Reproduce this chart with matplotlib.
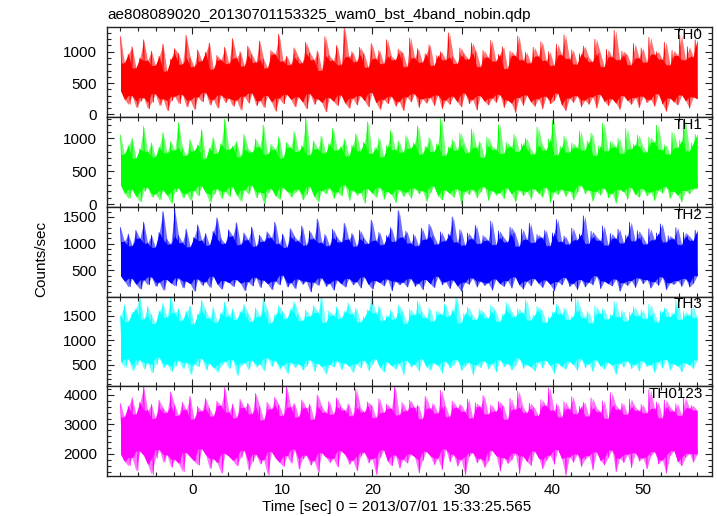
import numpy as np
import matplotlib
matplotlib.use("Agg")
import matplotlib.pyplot as plt
from matplotlib.ticker import MultipleLocator

t_start = -7.95
t_end = 56.05

th0_hi = [1240, 820, 960, 1080, 740, 900, 1190, 860, 1010, 780, 930, 1120, 690, 880, 1050,
          970, 800, 1260, 910, 760, 1030, 850, 990, 1140, 720, 940, 870, 1070, 810, 1210,
          900, 1000, 770, 1090, 950, 830, 1170, 880, 740, 1020, 960, 1280, 850, 930, 790,
          1060, 910, 820, 1150, 980, 870, 1010, 700, 1240, 940, 860, 1100, 790, 1380, 920,
          1000, 840, 1070, 960, 750, 1130, 890, 1020, 810, 1190, 930, 870, 1040, 980, 760,
          1220, 900, 1050, 830, 970, 1110, 780, 940, 1000, 870, 1300, 920, 810, 1060, 950,
          880, 1140, 990, 760, 1020, 910, 1180, 850, 960, 1080, 730, 1010, 940, 1250, 870,
          990, 820, 1070, 930, 1160, 860, 1000, 780, 1120, 950, 1270, 890, 1030, 800, 970,
          1090, 910, 840, 1200, 980, 760, 1040, 920, 1340, 870, 1010, 950, 790, 1130, 900,
          1060, 830, 1230, 960, 1000, 880, 1150, 790, 1020, 940, 1260, 870, 1080, 920, 1190]
th0_lo = [380, 240, 160, 300, 110, 210, 270, 90, 190, 330, 140, 250, 60, 220, 290,
          170, 320, 120, 230, 80, 280, 200, 350, 150, 240, 100, 310, 190, 260, 130,
          230, 70, 290, 180, 340, 140, 220, 110, 300, 200, 50, 260, 170, 320, 240,
          120, 280, 200, 90, 330, 160, 250, 190, 40, 270, 210, 140, 310, 180, 100,
          260, 150, 300, 220, 120, 350, 190, 80, 240, 170, 290, 130, 210, 60, 280,
          200, 330, 110, 250, 180, 270, 140, 310, 90, 230, 160, 290, 200, 120, 340,
          170, 240, 70, 300, 210, 150, 260, 190, 320, 110, 230, 180, 30, 270, 140,
          310, 200, 130, 250, 90, 290, 170, 220, 340, 150, 60, 260, 190, 300, 120,
          230, 160, 280, 100, 320, 210, 140, 250, 180, 80, 300, 220, 160, 270, 110,
          290, 190, 240, 130, 330, 170, 50, 260, 200, 150, 310, 220, 100, 280, 250]

th1_hi = [1050, 760, 890, 1000, 700, 840, 1180, 800, 930, 720, 870, 1090, 780, 950, 820,
          1240, 860, 740, 980, 810, 900, 1130, 690, 850, 1010, 770, 920, 1290, 830, 880,
          950, 720, 1060, 840, 790, 990, 870, 1200, 760, 910, 830, 1020, 700, 940, 860,
          1100, 800, 890, 1310, 750, 960, 840, 1030, 780, 920, 1150, 820, 870, 990, 730,
          900, 1070, 810, 940, 1250, 770, 860, 1000, 720, 890, 1120, 830, 960, 790, 1040,
          850, 930, 1190, 760, 880, 1010, 800, 920, 1300, 740, 870, 980, 820, 1080, 900,
          780, 1140, 860, 950, 710, 1020, 890, 830, 1210, 770, 940, 870, 1060, 800, 920,
          1000, 840, 760, 1170, 900, 820, 990, 1270, 750, 880, 1030, 790, 930, 860, 1110,
          820, 960, 1080, 740, 890, 1230, 810, 950, 870, 1000, 770, 1150, 840, 910, 1050,
          880, 790, 1020, 940, 1200, 830, 900, 760, 1090, 860, 970, 1280, 810, 930, 1060]
th1_lo = [300, 170, 90, 230, 120, 40, 200, 260, 110, 160, 70, 220, 140, 20, 190,
          250, 100, 170, 60, 210, 130, 280, 180, 30, 150, 240, 90, 200, 120, 270,
          140, 50, 220, 160, 290, 100, 190, 10, 170, 240, 130, 80, 260, 200, 110,
          180, 230, 70, 150, 270, 120, 40, 210, 160, 250, 90, 190, 130, 300, 60,
          220, 140, 180, 20, 240, 170, 110, 260, 80, 200, 150, 30, 230, 120, 190,
          90, 250, 160, 210, 50, 180, 280, 130, 70, 220, 170, 110, 240, 0, 200,
          150, 230, 100, 190, 270, 60, 210, 140, 180, 90, 250, 160, 40, 220, 130,
          200, 80, 240, 170, 110, 260, 30, 190, 150, 230, 120, 210, 70, 180, 290,
          160, 220, 50, 200, 140, 250, 100, 170, 20, 230, 190, 80, 260, 150, 110,
          240, 130, 190, 60, 220, 170, 270, 90, 200, 140, 40, 210, 160, 230, 250]

th2_hi = [1300, 1040, 1180, 960, 1250, 1100, 1400, 1010, 1160, 930, 1210, 1600, 1080, 990, 1640,
          1150, 1020, 1270, 940, 1120, 1350, 1060, 1190, 970, 1230, 1480, 1090, 1000, 1260, 1140,
          1390, 980, 1200, 1070, 1310, 950, 1160, 1040, 1220, 1110, 1400, 1000, 1180, 930, 1280,
          1130, 1050, 1330, 970, 1240, 1090, 1460, 1020, 1170, 960, 1270, 1120, 1030, 1380, 1080,
          1190, 950, 1250, 1100, 1000, 1440, 1060, 1210, 980, 1150, 1300, 1040, 1620, 1120, 1230,
          1010, 1170, 960, 1290, 1080, 1360, 1140, 990, 1220, 1050, 1180, 1500, 1030, 1260, 970,
          1200, 1090, 1340, 1000, 1150, 1060, 1420, 980, 1240, 1120, 1030, 1310, 1190, 950, 1270,
          1080, 1380, 1020, 1170, 1110, 1250, 960, 1200, 1450, 1040, 1140, 990, 1290, 1070, 1180,
          1520, 1000, 1230, 1130, 1060, 1330, 970, 1190, 1100, 1270, 1010, 1160, 1400, 1050, 1240,
          1120, 990, 1280, 1070, 1200, 1370, 1030, 1150, 1090, 1300, 980, 1210, 1140, 1060, 1250]
th2_lo = [400, 300, 190, 350, 240, 150, 320, 230, 380, 200, 280, 130, 330, 260, 210,
          360, 170, 300, 250, 110, 340, 220, 290, 180, 390, 240, 150, 310, 270, 200,
          330, 260, 120, 290, 210, 370, 180, 320, 250, 140, 300, 230, 410, 190, 270,
          160, 340, 240, 300, 100, 280, 220, 360, 200, 260, 130, 320, 250, 190, 350,
          230, 290, 170, 380, 240, 150, 310, 270, 210, 340, 120, 300, 230, 280, 190,
          350, 200, 260, 140, 330, 250, 180, 390, 230, 290, 160, 320, 210, 110, 280,
          240, 360, 190, 300, 220, 270, 130, 340, 250, 200, 310, 170, 380, 230, 150,
          300, 210, 350, 260, 180, 320, 240, 120, 290, 230, 370, 200, 260, 140, 330,
          190, 280, 230, 400, 160, 300, 250, 210, 340, 110, 270, 220, 310, 180, 360,
          250, 330, 170, 290, 220, 380, 140, 270, 240, 310, 200, 350, 190, 260, 400]

th3_hi = [1500, 1720, 1380, 1560, 1650, 1880, 1430, 1690, 1520, 1340, 1600, 1750, 1470, 1880, 1560,
          1650, 1400, 1590, 1700, 1330, 1530, 1820, 1610, 1450, 1670, 1360, 1560, 1780, 1490, 1640,
          1420, 1590, 1730, 1550, 1380, 1660, 1480, 1860, 1610, 1350, 1520, 1700, 1580, 1440, 1640,
          1790, 1530, 1400, 1620, 1490, 1710, 1570, 1880, 1360, 1600, 1510, 1680, 1440, 1590, 1760,
          1540, 1650, 1370, 1470, 1620, 1850, 1560, 1690, 1400, 1500, 1610, 1430, 1720, 1580, 1340,
          1640, 1520, 1800, 1570, 1460, 1660, 1390, 1600, 1530, 1740, 1490, 1620, 1880, 1350, 1550,
          1680, 1510, 1420, 1640, 1560, 1450, 1710, 1590, 1380, 1530, 1770, 1600, 1480, 1650, 1560,
          1830, 1410, 1520, 1690, 1610, 1360, 1470, 1580, 1730, 1540, 1660, 1420, 1500, 1870, 1620,
          1460, 1590, 1350, 1700, 1550, 1640, 1430, 1520, 1790, 1480, 1610, 1390, 1570, 1680, 1500,
          1620, 1440, 1740, 1530, 1370, 1600, 1660, 1480, 1560, 1820, 1420, 1590, 1510, 1700, 1460]
th3_lo = [560, 450, 620, 380, 490, 600, 410, 540, 330, 500, 650, 440, 520, 360, 470,
          590, 420, 550, 300, 510, 460, 630, 390, 530, 440, 350, 490, 570, 420, 610,
          280, 480, 540, 400, 590, 450, 510, 370, 640, 460, 590, 410, 490, 320, 550,
          440, 520, 390, 470, 600, 360, 530, 460, 310, 500, 450, 580, 400, 540, 470,
          340, 520, 430, 590, 380, 500, 620, 440, 350, 560, 480, 410, 530, 300, 590,
          450, 510, 370, 620, 460, 390, 540, 480, 330, 570, 430, 500, 610, 380, 470,
          550, 290, 500, 440, 580, 410, 520, 350, 600, 460, 530, 390, 480, 640, 420,
          510, 450, 370, 560, 430, 590, 480, 320, 540, 460, 410, 570, 500, 380, 630,
          440, 520, 360, 600, 470, 410, 550, 490, 300, 530, 450, 580, 420, 510, 370,
          580, 460, 500, 340, 560, 430, 610, 390, 520, 470, 350, 540, 490, 420, 600]

th0123_hi = [3700, 3250, 3620, 3900, 3350, 3750, 4280, 3480, 3680, 3200, 3820, 3560, 3400, 4100, 3650,
             3300, 3760, 3500, 3950, 3180, 3610, 3450, 3880, 3550, 3280, 3790, 3640, 4250, 3420, 3690,
             3220, 3850, 3570, 3720, 3360, 4050, 3600, 3150, 3750, 3520, 3920, 3650, 3300, 4270, 3590,
             3710, 3250, 3830, 3560, 3680, 3170, 4000, 3620, 3410, 3780, 3340, 3900, 3600, 3480, 3700,
             3290, 4200, 3580, 3420, 3760, 3640, 3230, 3870, 3400, 3690, 3540, 4290, 3320, 3740, 3460,
             3820, 3580, 3650, 3190, 3950, 3550, 3700, 3380, 4150, 3620, 3260, 3790, 3570, 3680, 3440,
             3860, 3210, 3730, 3600, 3980, 3350, 3660, 3440, 3780, 3620, 3170, 3880, 3510, 4120, 3590,
             3400, 3720, 3560, 3300, 3840, 3640, 4230, 3480, 3690, 3250, 3770, 3530, 3940, 3360, 3610,
             3750, 3280, 3900, 3570, 3430, 3800, 3200, 4080, 3650, 3510, 3720, 3340, 3860, 3600, 3470,
             3680, 3390, 4180, 3540, 3760, 3220, 3830, 3590, 3450, 3700, 3300, 3920, 3560, 3640, 3480]
th0123_lo = [2000, 1750, 1600, 1880, 1420, 2100, 1950, 1650, 1300, 1850, 2150, 1720, 1980, 1550, 1820,
             1680, 1400, 2050, 1900, 1760, 1620, 2180, 1970, 1500, 1840, 1700, 1350, 2020, 1920, 1780,
             1600, 1880, 2120, 1450, 1740, 1990, 1660, 1810, 1280, 2080, 1870, 1720, 1580, 1940, 1690,
             2160, 1480, 1830, 1960, 1620, 1770, 1380, 2040, 1900, 1710, 1850, 1560, 2110, 1980, 1650,
             1790, 1430, 1920, 2060, 1700, 1840, 1300, 1880, 2140, 1750, 1600, 1970, 1520, 1820, 1690,
             2000, 1900, 1360, 1780, 2090, 1940, 1640, 1860, 1470, 2170, 1730, 1990, 1590, 1820, 1290,
             1910, 2050, 1700, 1850, 1550, 1760, 2120, 1950, 1420, 1880, 1680, 1800, 2030, 1330, 1930,
             1740, 1610, 2100, 1870, 1500, 1790, 1960, 1650, 2150, 1840, 1280, 1900, 1720, 2000, 1570,
             1820, 1940, 1460, 2070, 1780, 1630, 1880, 2130, 1400, 1860, 1710, 1990, 1540, 2040, 1760,
             1870, 1500, 1930, 2080, 1660, 1800, 1350, 1950, 2110, 1740, 1600, 1890, 2020, 1720, 2000]

names = ["TH0", "TH1", "TH2", "TH3", "TH0123"]
highs = [th0_hi, th1_hi, th2_hi, th3_hi, th0123_hi]
lows = [th0_lo, th1_lo, th2_lo, th3_lo, th0123_lo]

colors = ["#ff0000", "#00ff00", "#0000ff", "#00ffff", "#ff00ff"]
ylims = [(-43, 1390), (-36, 1323), (10, 1690), (57, 1894), (1250, 4293)]
ymajor = [500, 500, 500, 500, 1000]
yminor = [100, 100, 100, 100, 200]

plt.rcParams["font.family"] = ["Liberation Sans", "DejaVu Sans"]
plt.rcParams["font.size"] = 11

W, H = 717, 516
fig = plt.figure(figsize=(W / 100, H / 100), dpi=100)

left = 107 / W
width = (712 - 107) / W
top = 27.3
ph = 89.75

for i in range(5):
    bottom = 1 - (top + ph * (i + 1)) / H
    ax = fig.add_axes([left, bottom, width, ph / H])

    hi = np.array(highs[i], dtype=float)
    lo = np.array(lows[i], dtype=float)
    n = min(len(hi), len(lo))
    hi, lo = hi[:n], lo[:n]
    tt = np.linspace(t_start, t_end, n)

    # solid part: where neighbouring samples overlap
    hi_in = np.minimum(hi, np.r_[hi[1:], hi[-1]])
    lo_in = np.maximum(lo, np.r_[lo[1:], lo[-1]])
    ax.fill_between(tt, lo, hi, color=colors[i], alpha=0.55, lw=0)
    ax.fill_between(tt, lo_in, hi_in, color=colors[i], lw=0)

    # thin spikes on top
    y = np.empty(2 * n)
    y[0::2] = hi
    y[1::2] = lo
    t = np.linspace(t_start, t_end, 2 * n)
    ax.plot(t, y, color=colors[i], lw=0.5)

    ax.set_xlim(-9.45, 57.7)
    ax.set_ylim(*ylims[i])
    ax.xaxis.set_major_locator(MultipleLocator(10))
    ax.xaxis.set_minor_locator(MultipleLocator(2))
    ax.yaxis.set_major_locator(MultipleLocator(ymajor[i]))
    ax.yaxis.set_minor_locator(MultipleLocator(yminor[i]))
    ax.tick_params(which="both", direction="in", top=True, right=True,
                   colors="#222222", labelcolor="black")
    ax.tick_params(which="major", length=4.8, width=0.8)
    ax.tick_params(which="minor", length=2.9, width=0.8)
    ax.tick_params(axis="y", pad=7)
    ax.tick_params(axis="x", pad=5)
    for s in ax.spines.values():
        s.set_linewidth(1.0)
        s.set_color("#222222")
    if i < 4:
        ax.tick_params(axis="x", labelbottom=False)

    ax.text(0.985, 0.99, names[i], transform=ax.transAxes,
            ha="right", va="top", fontsize=11)

fig.text(left, 1 - 19.5 / H,
         "ae808089020_20130701153325_wam0_bst_4band_nobin.qdp",
         ha="left", va="baseline", fontsize=11)
fig.text(397 / W, 1 - 511.5 / H,
         "Time [sec] 0 = 2013/07/01 15:33:25.565",
         ha="center", va="baseline", fontsize=11)
fig.text(41 / W, 1 - 259 / H, "Counts/sec", rotation=90,
         ha="center", va="center", fontsize=11)

fig.savefig("out.png", dpi=100)
